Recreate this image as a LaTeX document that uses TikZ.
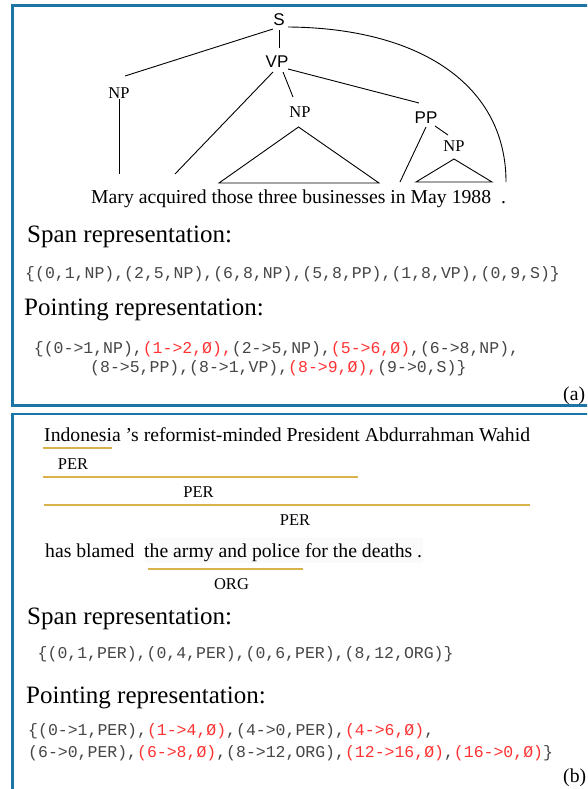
\documentclass[tikz,border=0pt]{standalone}
\usepackage{fontspec}
\setmainfont{Liberation Serif}
\setsansfont{Liberation Sans}
\setmonofont{Liberation Mono}
\definecolor{framec}{RGB}{27,118,166}
\definecolor{gold}{RGB}{218,177,74}
\definecolor{redt}{RGB}{255,51,51}
\definecolor{grayt}{RGB}{70,70,70}
\tikzset{
 panel/.style={draw=framec, line width=2.6pt},
 head/.style={anchor=base west, inner sep=0, font=\fontsize{25}{30}\selectfont},
 code/.style={anchor=base west, inner sep=0, font=\fontsize{16.5}{20}\selectfont\ttfamily, text=grayt},
 sent/.style={anchor=base west, inner sep=0, font=\fontsize{19.7}{23}\selectfont},
 tag/.style={anchor=base, inner sep=0, font=\fontsize{16.5}{20}\selectfont},
 ser/.style={inner sep=0, font=\fontsize{16.5}{20}\selectfont},
 sans/.style={inner sep=0, font=\fontsize{17}{20}\selectfont\sffamily},
 edge/.style={line width=0.9pt},
 spanline/.style={draw=gold, line width=2.4pt},
}
\begin{document}
\begin{tikzpicture}[x=1pt,y=-1pt]
\clip (0,0) rectangle (587,789);
\fill[white] (0,0) rectangle (587,789);
\draw[panel] (12.5,5.5) rectangle (640,405.5);
\draw[panel] (12.5,414) rectangle (640,840);

% tree
\node[sans] (S) at (279,20) {S};
\node[sans] (VP) at (277,62) {VP};
\node[ser] (NPa) at (119,93) {NP};
\node[ser] (NPb) at (300,112) {NP};
\node[sans] (PP) at (426,118) {PP};
\node[ser] (NPc) at (454,146) {NP};
\node[sent] (sen) at (91,203) {Mary acquired those three businesses in May 1988\ \ .};
\coordinate (wMary) at (119,174);
\coordinate (wAcq) at (175,174);
\coordinate (t1L) at (219,183);
\coordinate (t1R) at (379,183);
\coordinate (wIn) at (400,182);
\coordinate (t2L) at (416,182);
\coordinate (t2R) at (492,182);
\coordinate (wDot) at (506,182);

\draw[edge] ([shift={(-6,9)}]S.center) -- ([shift={(6,-17)}]NPa.center);
\draw[edge] ([shift={(0,10)}]S.center) -- ([shift={(2,-14)}]VP.center);
\draw[edge] ([shift={(9,7)}]S.center) .. controls (420,28) and (506,85) .. (wDot);
\draw[edge] ([shift={(-4,10)}]VP.center) -- (wAcq);
\draw[edge] ([shift={(6,10)}]VP.center) -- ([shift={(-7,-15)}]NPb.center);
\draw[edge] ([shift={(11,7)}]VP.center) -- ([shift={(-7,-15)}]PP.center);
\draw[edge] ([shift={(0,6)}]NPa.center) -- (wMary);
\draw[edge] (t1L) -- ([shift={(-1.5,15)}]NPb.center) -- (t1R) -- cycle;
\draw[edge] ([shift={(0,9)}]PP.center) -- (wIn);
\draw[edge] ([shift={(9,8)}]PP.center) -- ([shift={(-6,-11)}]NPc.center);
\draw[edge] (t2L) -- ([shift={(0,13)}]NPc.center) -- (t2R) -- cycle;

% panel (a) text
\node[head] (spanA) at (27,242.5) {Span representation:};
\node[code] (spanAc) at (25,278) {\{(0,1,NP),(2,5,NP),(6,8,NP),(5,8,PP),(1,8,VP),(0,9,S)\}};
\node[head] (pointA) at (24,315.5) {Pointing representation:};
\node[code] (pA1) at (33.7,353) {\{(0->1,NP),\textcolor{redt}{(1->2,Ø),}(2->5,NP),\textcolor{redt}{(5->6,Ø)},(6->8,NP),};
\node[code] (pA2) at (90,372) {(8->5,PP),(8->1,VP),\textcolor{redt}{(8->9,Ø),}(9->0,S)\}};
\node[sent] (la) at (563,400) {(a)};

% panel (b)
\fill[black!2] (145,538) rectangle (423,563);
\node[sent] (indo) at (44,441.5) {Indonesia 's reformist-minded President Abdurrahman Wahid};
\draw[spanline] (43,448) -- (112,448);
\node[tag] (per1) at (73,469.6) {PER};
\draw[spanline] (43,477) -- (358,477);
\node[tag] (per2) at (198.5,497.6) {PER};
\draw[spanline] (44,505) -- (530,505);
\node[tag] (per3) at (295,525.6) {PER};
\node[sent] (has) at (45,557) {has blamed~ the army and police for the deaths .};
\draw[spanline] (148,569) -- (303,569);
\node[tag] (org) at (231.5,589.6) {ORG};

\node[head] (spanB) at (27,624.5) {Span representation:};
\node[code] (spanBc) at (37.5,658) {\{(0,1,PER),(0,4,PER),(0,6,PER),(8,12,ORG)\}};
\node[head] (pointB) at (26,703) {Pointing representation:};
\node[code] (pB1) at (28,735) {\{(0->1,PER),\textcolor{redt}{(1->4,Ø)},(4->0,PER),\textcolor{redt}{(4->6,Ø)},};
\node[code] (pB2) at (28,757) {(6->0,PER),\textcolor{redt}{(6->8,Ø)},(8->12,ORG),\textcolor{redt}{(12->16,Ø)},\textcolor{redt}{(16->0,Ø)}\}};
\node[sent] (lb) at (563,782) {(b)};
\end{tikzpicture}
\end{document}
